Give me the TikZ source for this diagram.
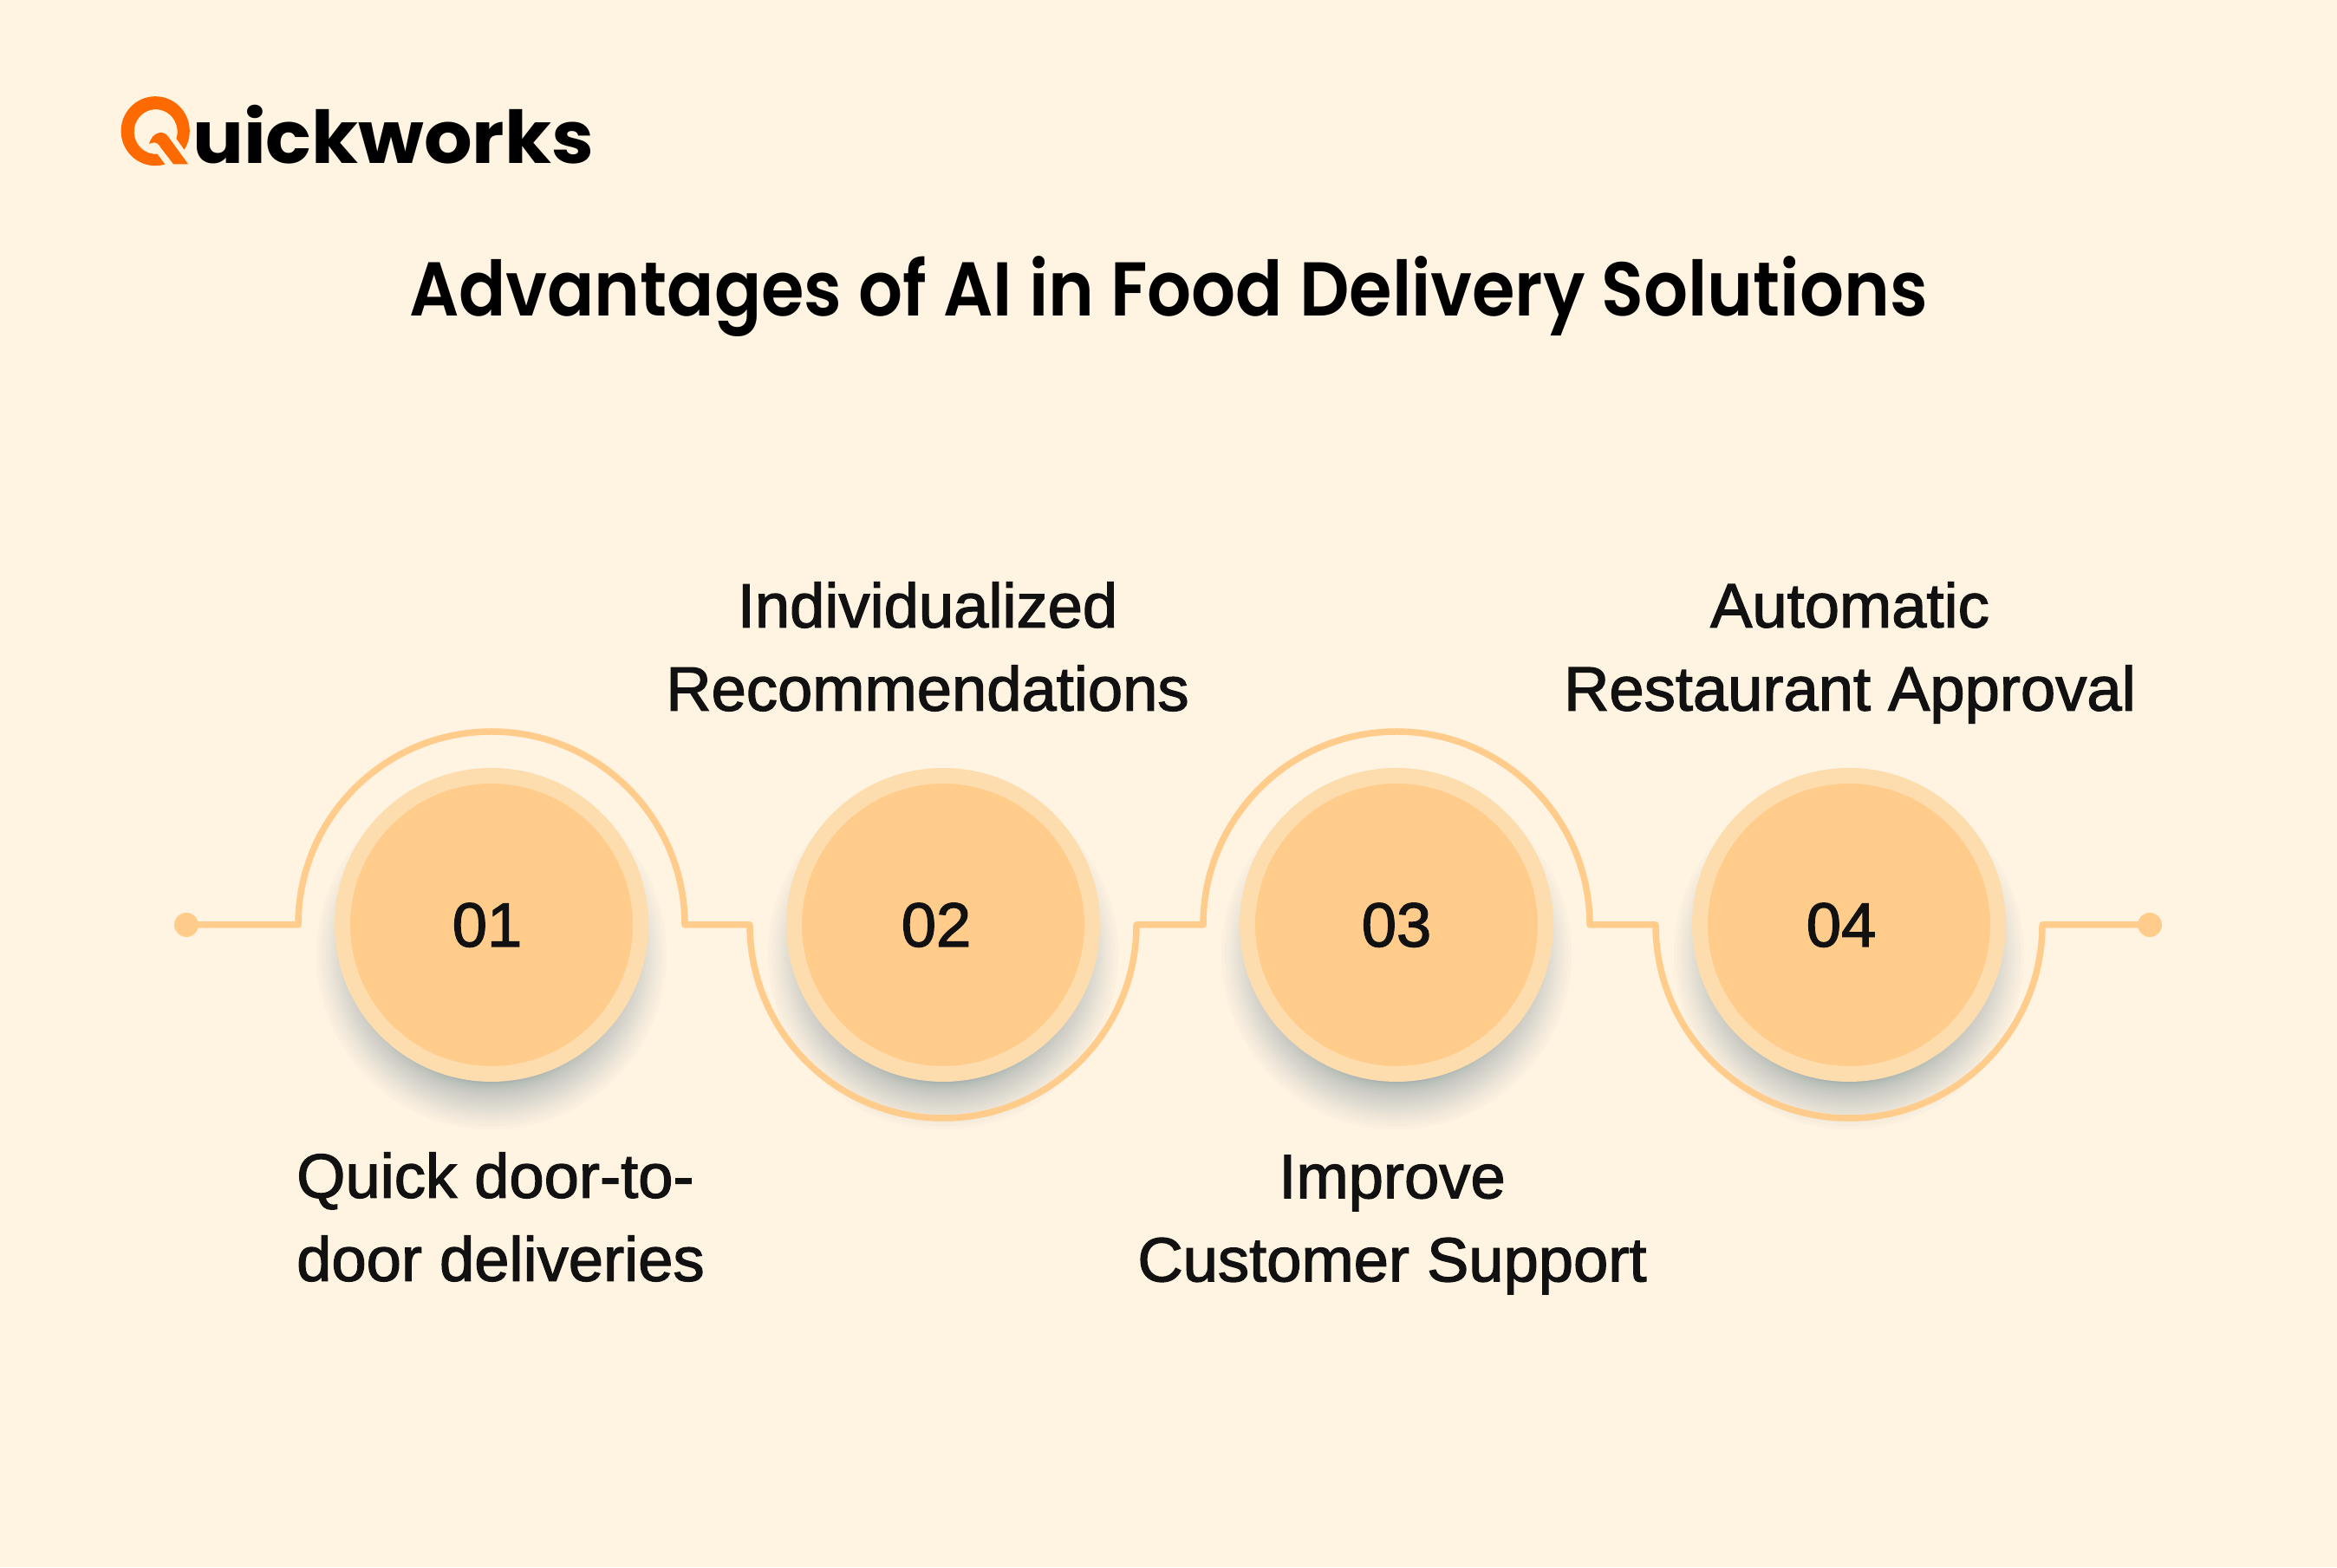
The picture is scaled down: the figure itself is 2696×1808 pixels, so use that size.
\documentclass[tikz,border=0pt]{standalone}
\usepackage{fontspec}
\setmainfont{Liberation Sans}
\newfontfamily\labelfont[FakeBold=1.8,FakeStretch=1.005]{Liberation Sans}
\newfontfamily\titlefont[FakeStretch=0.91]{Poppins SemiBold}
\newfontfamily\logofont[FakeStretch=1.04]{Poppins Bold}
\definecolor{bgc}{HTML}{FFF3E1}
\definecolor{linec}{HTML}{FFCC8B}
\definecolor{ringc}{HTML}{FDDDAE}
\definecolor{inkc}{HTML}{111111}
\definecolor{shadowc}{HTML}{5F7F8F}
\definecolor{logoc}{HTML}{FF6A00}
\tikzset{
  stepcircle/.style={circle,draw=ringc,fill=linec,line width=18pt,minimum size=344pt,inner sep=0pt},
  enddot/.style={circle,fill=linec,minimum size=28pt,inner sep=0pt},
  flow/.style={draw=linec,line width=7.5pt,line join=round},
  numtext/.style={font=\labelfont\fontsize{72}{96}\selectfont,text=inkc,inner sep=0pt,anchor=base},
  lbl/.style={font=\labelfont\fontsize{72}{96}\selectfont,text=inkc,inner sep=0pt,align=center},
}
\begin{document}
\begin{tikzpicture}[x=1pt,y=1pt]
\useasboundingbox (0,0) rectangle (2696,1808);
\fill[bgc] (0,0) rectangle (2696,1808);
% shadows
\foreach \cx in {567,1088,1611,2133}{
  \foreach \k in {1,...,28}{
    \pgfmathsetmacro{\rr}{148+54*pow(\k/28,2)}
    \fill[shadowc,opacity=.022] (\cx,707) circle[radius=\rr pt];
  }
}
% flow line
\node[enddot] (d1) at (215,741) {};
\node[enddot] (d2) at (2480,741) {};
\coordinate (a1l) at (344,741);
\coordinate (a2l) at (865,741);
\coordinate (a3l) at (1388,741);
\coordinate (a4l) at (1910,741);
\path[flow] (d1.center) -- (a1l) arc[start angle=180,end angle=0,radius=223pt]
  -- (a2l) arc[start angle=180,end angle=360,radius=223pt]
  -- (a3l) arc[start angle=180,end angle=0,radius=223pt]
  -- (a4l) arc[start angle=180,end angle=360,radius=223pt]
  -- (d2.center);
% circles
\node[stepcircle] (c1) at (567,741) {};
\node[stepcircle] (c2) at (1088,741) {};
\node[stepcircle] (c3) at (1611,741) {};
\node[stepcircle] (c4) at (2133,741) {};
\node[numtext] (n1) at (562,716) {01};
\node[numtext] (n2) at (1080,716) {02};
\node[numtext] (n3) at (1611,716) {03};
\node[numtext] (n4) at (2124,716) {04};
% labels
\node[lbl,anchor=center] (l2) at (1070,1062) {Individualized\\Recommendations};
\node[lbl,anchor=center] (l4) at (2134,1055) {Automatic\\Restaurant Approval};
\node[lbl,anchor=west,align=left] (l1) at (342,404) {Quick door-to-\\door deliveries};
\node[lbl,anchor=center] (l3) at (1606,395) {Improve\\Customer Support};
% title
\node[font=\titlefont\fontsize{88}{96}\selectfont,text=black,inner sep=0pt,anchor=base] (title) at (1348,1443) {Advantages of AI in Food Delivery Solutions};
% logo
\fill[logoc] (212.6,1635.3) arc[start angle=-32.5,end angle=286.3,x radius=39.6pt,y radius=40pt]
  -- (181.6,1630.3) arc[start angle=274.5,end angle=-18,x radius=25pt,y radius=25.8pt] -- cycle;
\fill[logoc] (217,1618.7) -- (193.3,1651.3) .. controls (188,1658) and (176,1656) .. (172,1642)
  -- (175,1643) .. controls (180,1645) and (183,1642) .. (186,1637) -- (200,1618.7) -- cycle;
\node[font=\logofont\fontsize{84}{90}\selectfont,text=black,inner sep=0pt,anchor=base west] (logo) at (222,1619) {uickworks};
\end{tikzpicture}
\end{document}
